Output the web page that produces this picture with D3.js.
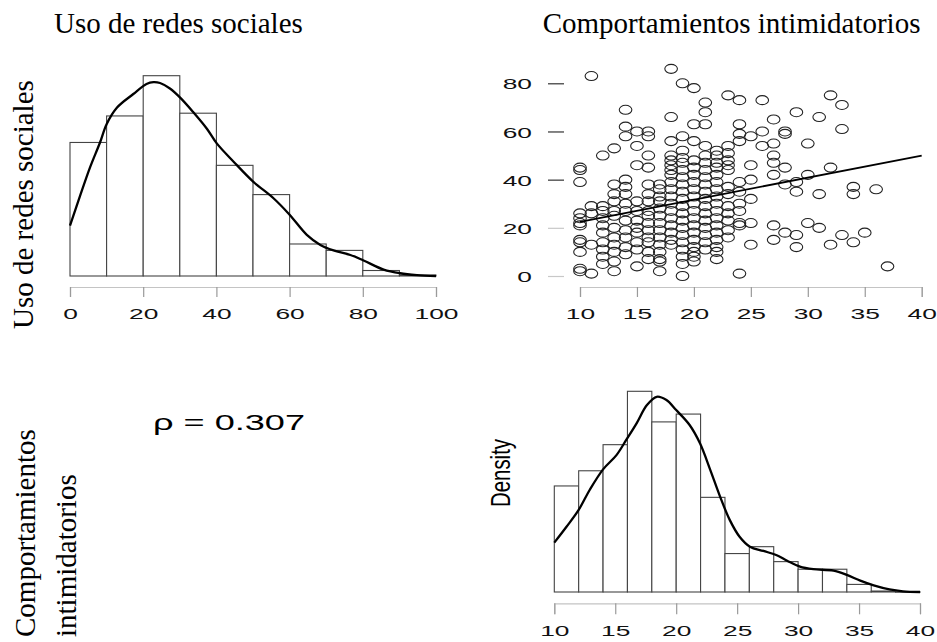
<!DOCTYPE html>
<html>
<head>
<meta charset="utf-8">
<script src="https://cdn.jsdelivr.net/npm/d3@7"></script>
<style>
  html, body { margin: 0; padding: 0; background: #fff; }
  svg { display: block; }
</style>
</head>
<body>
<svg id="chart" width="937" height="642"></svg>
<script>
// ---------------- DATA ----------------
const titleUso = "Uso de redes sociales";
const titleIntim = "Comportamientos intimidatorios";
const rhoLabel = "\u03C1 = 0.307";
const densityLabel = "Density";

// Histogram: Uso de redes sociales (density)
const usoBreaks = [0, 10, 20, 30, 40, 50, 60, 70, 80, 90, 100];
const usoDensity = [0.0146, 0.0175, 0.0219, 0.0178, 0.0121, 0.0089, 0.0035, 0.0028, 0.0006, 0.0001];
const usoKdeX = [0, 2.7, 5.5, 8.2, 10, 12.8, 17.3, 20.9, 22.8, 24.6, 27.3, 30.1, 33.7, 37.4, 40.1, 44.7, 50.1, 55.6, 60, 64.7, 68.4, 72, 76.6, 80.2, 85.7, 90.2, 94.8, 100];
const usoKdeY = [0.0055, 0.0087, 0.0119, 0.0146, 0.0166, 0.0184, 0.0199, 0.0210, 0.0212, 0.0211, 0.0205, 0.0195, 0.0179, 0.0161, 0.0145, 0.0125, 0.0103, 0.0085, 0.0067, 0.0045, 0.0034, 0.0028, 0.0023, 0.0017, 0.0007, 0.0003, 0.0001, 0];
const usoTicks = [0, 20, 40, 60, 80, 100];

// Histogram: Comportamientos intimidatorios (density)
const intimBreaks = [10, 12, 14, 16, 18, 20, 22, 24, 26, 28, 30, 32, 34, 36, 38, 40];
const intimDensity = [0.0447, 0.0511, 0.0621, 0.0846, 0.0717, 0.0750, 0.0399, 0.0162, 0.0191, 0.0128, 0.0096, 0.0096, 0.0032, 0.0004, 0.0001];
const intimKdeX = [10, 11.0, 12.0, 12.9, 14.0, 15.1, 15.9, 16.75, 17.6, 18.4, 19.2, 20.0, 21.1, 21.95, 22.8, 23.6, 24.4, 25.2, 26.05, 27.15, 28.2, 29.1, 30.15, 31.25, 32.9, 34.0, 35.1, 36.2, 37.5, 38.6, 40];
const intimKdeY = [0.0208, 0.0275, 0.0346, 0.0430, 0.0517, 0.0577, 0.0641, 0.0711, 0.0788, 0.0823, 0.0809, 0.0767, 0.0704, 0.0627, 0.0514, 0.0402, 0.0303, 0.0233, 0.0191, 0.0173, 0.0156, 0.0132, 0.0107, 0.0096, 0.0090, 0.0072, 0.0048, 0.0028, 0.0011, 0.0003, 0];
const intimTicks = [10, 15, 20, 25, 30, 35, 40];

// Scatter: x = Comportamientos intimidatorios, y = Uso de redes sociales
const scatterXValues = [10, 11, 12, 13, 14, 15, 16, 17, 18, 19, 20, 21, 22, 23, 24, 25, 26, 27, 28, 29, 30, 31, 32, 33, 34, 35, 36, 37];
const scatterYByX = [
  [45, 44, 39, 26, 24, 22, 21, 15, 14, 10, 3, 2],
  [83, 29, 26, 13, 1],
  [50, 29, 27, 24, 21, 18, 14, 11, 8, 5],
  [53, 38, 34, 31, 27, 25, 20, 16, 13, 10, 6, 2],
  [69, 62, 58, 40, 37, 34, 30, 27, 23, 19, 16, 12, 9],
  [60, 54, 46, 31, 27, 23, 20, 18, 14, 11, 4],
  [60, 58, 50, 45, 38, 34, 31, 27, 25, 22, 19, 16, 14, 10, 7],
  [38, 36, 33, 31, 28, 25, 22, 19, 16, 13, 10, 7, 6, 2],
  [86, 66, 56, 50, 48, 46, 44, 42, 39, 36, 33, 30, 27, 24, 21, 18, 15, 13],
  [80, 58, 52, 49, 47, 44, 41, 38, 35, 32, 29, 26, 23, 20, 17, 14, 11, 8, 5, 0],
  [78, 63, 56, 48, 45, 42, 39, 36, 33, 30, 27, 24, 21, 18, 15, 12, 10, 8, 6],
  [72, 68, 63, 54, 50, 47, 44, 41, 38, 35, 32, 29, 26, 23, 20, 17, 14, 11],
  [52, 50, 47, 45, 42, 39, 36, 33, 30, 27, 24, 21, 18, 15, 12, 10, 7],
  [75, 54, 51, 48, 46, 44, 37, 34, 29, 26, 23, 19, 16],
  [73, 63, 59, 56, 39, 35, 30, 27, 22, 21, 1],
  [58, 46, 40, 32, 22, 13],
  [73, 60, 54],
  [65, 55, 50, 47, 42, 21, 15],
  [60, 59, 45, 38, 18],
  [68, 39, 35, 17, 12],
  [55, 42, 22],
  [66, 34, 20],
  [75, 45, 13],
  [71, 61, 17],
  [37, 34, 14],
  [18],
  [36],
  [4]
];
const scatterXTicks = [10, 15, 20, 25, 30, 35, 40];
const scatterYTicks = [0, 20, 40, 60, 80];
const regIntercept = 13.33;
const regSlope = 0.9167;

// ---------------- DRAWING ----------------
const svg = d3.select("#chart");
const serif = "'Liberation Serif', 'Times New Roman', serif";
const sans = "'Liberation Sans', Arial, Helvetica, sans-serif";
const tickFont = "15.5px";
const tickStretch = 1.7;

function styleAxis(g, tickY, color) {
  g.select(".domain").attr("stroke", "#c4c4c4").attr("stroke-width", 1.2);
  g.selectAll(".tick line").attr("stroke", color || "#9a9a9a").attr("stroke-width", 1.2);
  g.selectAll(".tick text")
    .attr("y", tickY).attr("dy", 0)
    .attr("fill", "#111")
    .style("font-family", sans).style("font-size", tickFont)
    .attr("transform", `scale(${tickStretch},1)`);
}

function histogram(breaks, dens, kdeX, kdeY, xRange, baseY, topY, axisY, tickLen, ticks, labelY) {
  const x = d3.scaleLinear([breaks[0], breaks[breaks.length - 1]], xRange);
  const y = d3.scaleLinear([0, d3.max(dens)], [baseY, topY]);
  const g = svg.append("g");
  g.selectAll("rect").data(dens).join("rect")
    .attr("x", (d, i) => x(breaks[i]))
    .attr("width", (d, i) => x(breaks[i + 1]) - x(breaks[i]))
    .attr("y", d => y(d))
    .attr("height", d => Math.max(0.5, y(0) - y(d)))
    .attr("fill", "#fff").attr("stroke", "#444").attr("stroke-width", 1.1);
  const line = d3.line().x(d => x(d[0])).y(d => y(d[1])).curve(d3.curveCatmullRom.alpha(0.5));
  g.append("path").datum(kdeX.map((v, i) => [v, kdeY[i]]))
    .attr("d", line).attr("fill", "none").attr("stroke", "#000").attr("stroke-width", 2.3);
  const ax = svg.append("g").attr("transform", `translate(0,${axisY})`)
    .call(d3.axisBottom(x).tickValues(ticks).tickSizeOuter(0).tickSize(tickLen).tickFormat(d3.format("d")));
  styleAxis(ax, labelY);
}

// Top-left histogram
histogram(usoBreaks, usoDensity, usoKdeX, usoKdeY, [70, 436], 276, 75.7, 287, 10, usoTicks, 32);

// Bottom-right histogram
histogram(intimBreaks, intimDensity, intimKdeX, intimKdeY, [554.3, 920], 592, 391.3, 603.3, 11, intimTicks, 33);

// Scatter
const xS = d3.scaleLinear([10, 40], [580, 921.7]);
const yS = d3.scaleLinear([0, 80], [276, 83.3]);
const pts = [];
scatterXValues.forEach((xv, i) => scatterYByX[i].forEach(yv => pts.push([xv, yv])));
const gS = svg.append("g");
gS.selectAll("ellipse").data(pts).join("ellipse")
  .attr("cx", d => xS(d[0])).attr("cy", d => yS(d[1]))
  .attr("rx", 6.3).attr("ry", 4.5)
  .attr("fill", "none").attr("stroke", "#222").attr("stroke-width", 1.1);
gS.append("line")
  .attr("x1", xS(10)).attr("y1", yS(regIntercept + regSlope * 10))
  .attr("x2", xS(40)).attr("y2", yS(regIntercept + regSlope * 40))
  .attr("stroke", "#000").attr("stroke-width", 1.9);

const axSx = svg.append("g").attr("transform", "translate(0,287)")
  .call(d3.axisBottom(xS).tickValues(scatterXTicks).tickSizeOuter(0).tickSize(10));
styleAxis(axSx, 32);

const axSy = svg.append("g").attr("transform", "translate(564,0)")
  .call(d3.axisLeft(yS).tickValues(scatterYTicks).tickSizeOuter(0).tickSize(16));
axSy.select(".domain").remove();
axSy.selectAll(".tick line").attr("stroke", d => d >= 40 ? "#333" : "#c8c8c8").attr("stroke-width", 1.2);
axSy.selectAll(".tick text")
  .attr("x", 0).attr("dy", "0.36em")
  .attr("fill", "#111")
  .style("font-family", sans).style("font-size", tickFont)
  .attr("transform", `translate(-32,0) scale(1.7,1)`);

// Titles
svg.append("text").attr("x", 54).attr("y", 33).text(titleUso)
  .style("font-family", serif).style("font-size", "29px").attr("fill", "#000");
svg.append("text").attr("x", 542.7).attr("y", 33).text(titleIntim)
  .style("font-family", serif).style("font-size", "29px").attr("fill", "#000");

// Left rotated labels
svg.append("text").attr("transform", "translate(33,329) rotate(-90)").text(titleUso)
  .style("font-family", serif).style("font-size", "29px").attr("fill", "#000");
const intimWords = titleIntim.split(" ");
svg.append("text").attr("transform", "translate(35,637) rotate(-90)").text(intimWords[0])
  .style("font-family", serif).style("font-size", "29px").attr("fill", "#000");
svg.append("text").attr("transform", "translate(76,637) rotate(-90)").text(intimWords[1])
  .style("font-family", serif).style("font-size", "29px").attr("fill", "#000");

// Correlation text
svg.append("text").attr("x", 153).attr("y", 430).text(rhoLabel)
  .attr("textLength", 152).attr("lengthAdjust", "spacingAndGlyphs")
  .style("font-family", sans).style("font-size", "22px").attr("fill", "#000");

// Density label
svg.append("text").attr("transform", "translate(510,507) scale(1.35,1) rotate(-90)").text(densityLabel)
  .attr("textLength", 68).attr("lengthAdjust", "spacingAndGlyphs")
  .style("font-family", sans).style("font-size", "20px").attr("fill", "#000");
</script>
</body>
</html>
